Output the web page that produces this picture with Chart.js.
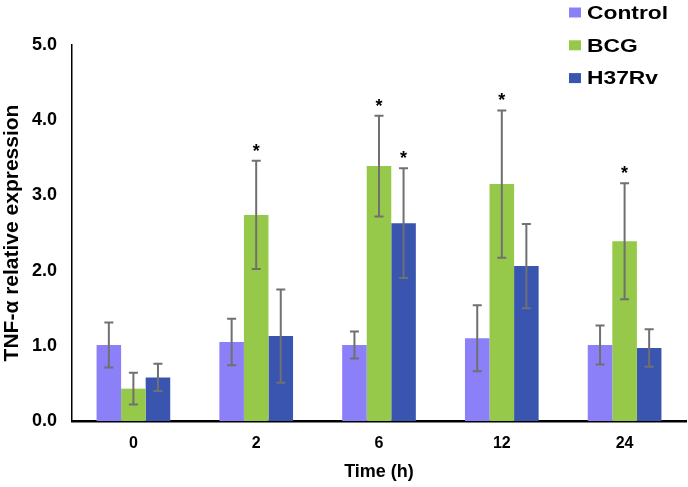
<!DOCTYPE html>
<html>
<head>
<meta charset="utf-8">
<script src="https://cdn.jsdelivr.net/npm/chart.js@4.4.1/dist/chart.umd.min.js"></script>
<style>
  html, body { margin: 0; padding: 0; background: #fff; }
  #wrap { width: 688px; height: 487px; }
</style>
</head>
<body>
<div id="wrap"><canvas id="grafico" width="688" height="487"></canvas></div>
<script>
// data
const times = ['0', '2', '6', '12', '24'];

const control = [1.01, 1.05, 1.01, 1.10, 1.01];
const bcg     = [0.43, 2.74, 3.39, 3.15, 2.39];
const h37rv   = [0.58, 1.13, 2.63, 2.06, 0.97];

const controlErr = [0.30, 0.31, 0.18, 0.44, 0.26];
const bcgErr     = [0.21, 0.72, 0.67, 0.98, 0.77];
const h37rvErr   = [0.18, 0.62, 0.73, 0.56, 0.25];

// where the "*" goes
const controlStar = [false, false, false, false, false];
const bcgStar     = [false, true, true, true, true];
const h37rvStar   = [false, false, true, false, false];

const yTicks = ['0.0', '1.0', '2.0', '3.0', '4.0', '5.0'];

const FONT = "'Liberation Sans', Arial, sans-serif";

let datasets = [
    { label: 'Control', data: control, err: controlErr, star: controlStar, backgroundColor: '#8C80F8' },
    { label: 'BCG', data: bcg, err: bcgErr, star: bcgStar, backgroundColor: '#96C84A' },
    { label: 'H37Rv', data: h37rv, err: h37rvErr, star: h37rvStar, backgroundColor: '#3A55B0' }
];

// error bars + asterisks
const errorBars = {
    id: 'errorBars',
    afterDatasetsDraw(chart) {
        const c = chart.ctx;
        const y = chart.scales.y;
        chart.data.datasets.forEach((ds, di) => {
            const meta = chart.getDatasetMeta(di);
            meta.data.forEach((bar, i) => {
                const v = ds.data[i], e = ds.err[i];
                const top = y.getPixelForValue(v + e);
                const bot = y.getPixelForValue(v - e);
                c.save();
                c.strokeStyle = '#707070';
                c.lineWidth = 2;
                c.beginPath();
                c.moveTo(bar.x, top); c.lineTo(bar.x, bot);
                c.moveTo(bar.x - 4.5, top); c.lineTo(bar.x + 4.5, top);
                c.moveTo(bar.x - 4.5, bot); c.lineTo(bar.x + 4.5, bot);
                c.stroke();
                if (ds.star[i]) {
                    c.fillStyle = '#000';
                    c.font = 'bold 18px ' + FONT;
                    c.textAlign = 'center';
                    c.textBaseline = 'alphabetic';
                    c.fillText('*', bar.x, top - 4);
                }
                c.restore();
            });
        });
    }
};

// legend sits over the top right corner, text a bit wide like the original
const cornerLegend = {
    id: 'cornerLegend',
    afterDraw(chart) {
        const c = chart.ctx;
        chart.data.datasets.forEach((ds, i) => {
            const cy = 12.5 + i * 32.8;
            c.save();
            c.fillStyle = ds.backgroundColor;
            c.fillRect(569, cy - 5, 12, 10);
            c.translate(587, cy + 1);
            c.scale(1.2, 1);
            c.font = 'bold 19px ' + FONT;
            c.textBaseline = 'middle';
            c.textAlign = 'left';
            c.fillStyle = '#000';
            c.fillText(ds.label, 0, 0);
            c.restore();
        });
    }
};

let ctx = document.getElementById('grafico');

new Chart(ctx.getContext('2d'), {
    type: 'bar',
    data: { labels: times, datasets: datasets },
    options: {
        responsive: false,
        animation: false,
        layout: { padding: { top: 45, right: 2, left: 0, bottom: 0 } },
        datasets: { bar: { categoryPercentage: 0.6, barPercentage: 1.0 } },
        scales: {
            x: {
                grid: { display: false, drawTicks: false },
                border: { display: true, color: '#000', width: 2.5 },
                ticks: { color: '#000', padding: 13, font: { family: FONT, size: 16, weight: 'bold' } },
                title: { display: true, text: 'Time (h)', color: '#000', padding: { top: 2, bottom: 4 },
                         font: { family: FONT, size: 18, weight: 'bold' } },
                afterFit(s) { s.height = 66; }
            },
            y: {
                min: 0, max: 5,
                grid: { display: false, drawTicks: false },
                border: { display: true, color: '#000', width: 1.5 },
                ticks: {
                    stepSize: 1, color: '#000', padding: 15,
                    font: { family: FONT, size: 18, weight: 'bold' },
                    callback: (v) => yTicks[Math.round(v)]
                },
                title: { display: true, text: 'TNF-α relative expression', color: '#000', padding: { top: 0, bottom: 6 },
                         font: { family: FONT, size: 21, weight: 'bold' } },
                afterFit(s) { s.width = 72; }
            }
        },
        plugins: { legend: { display: false }, tooltip: { enabled: false } }
    },
    plugins: [errorBars, cornerLegend]
});
</script>
</body>
</html>
